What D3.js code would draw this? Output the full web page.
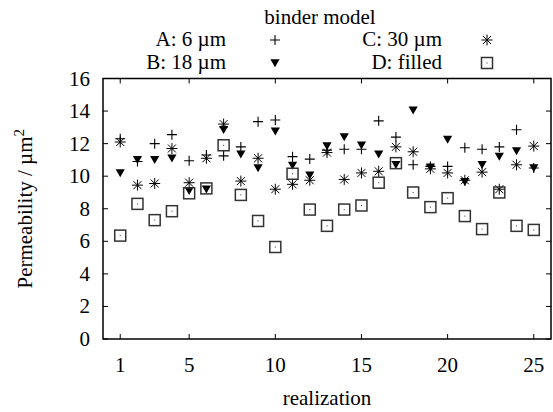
<!DOCTYPE html>
<html>
<head>
<meta charset="utf-8">
<script src="https://cdn.jsdelivr.net/npm/d3@7"></script>
<style>
  body { margin: 0; background: #fff; }
  text { font-family: "Liberation Serif", "DejaVu Serif", serif; fill: #000; }
</style>
</head>
<body>
<svg id="chart" width="553" height="412"></svg>
<script>
const realization = [1, 2, 3, 4, 5, 6, 7, 8, 9, 10, 11, 12, 13, 14, 15, 16, 17, 18, 19, 20, 21, 22, 23, 24, 25]
const xTicks = [1, 5, 10, 15, 20, 25]
const yTicks = [0, 2, 4, 6, 8, 10, 12, 14, 16]

// binder model A..D
const seriesA = [12.3, 10.9, 12.0, 12.55, 10.95, 11.3, 11.25, 11.8, 13.35, 13.45, 11.2, 11.05, 11.6, 11.65, 11.65, 13.4, 12.4, 10.7, 10.6, 10.6, 11.75, 11.65, 11.8, 12.85, 10.5]
const seriesB = [10.2, 11.0, 11.0, 11.1, 9.1, 9.2, 12.85, 11.35, 10.5, 12.75, 10.65, 10.05, 11.85, 12.4, 11.9, 11.35, 10.7, 14.05, 10.55, 12.25, 9.65, 10.7, 11.2, 11.55, 10.5]
const seriesC = [12.1, 9.45, 9.55, 11.7, 9.6, 11.1, 13.2, 9.7, 11.1, 9.2, 9.5, 9.75, 11.45, 9.8, 10.2, 10.3, 11.8, 11.5, 10.45, 10.2, 9.75, 10.25, 9.2, 10.7, 11.85]
const seriesD = [6.35, 8.3, 7.3, 7.85, 8.95, 9.25, 11.9, 8.85, 7.25, 5.65, 10.15, 7.95, 6.95, 7.95, 8.2, 9.6, 10.8, 9.0, 8.1, 8.65, 7.55, 6.75, 9.0, 6.95, 6.7]

const svg = d3.select("#chart")
const fontSize = 21

const plotL = 103, plotR = 551, plotT = 78.5, plotB = 339

const x = d3.scaleLinear().domain([0, 26]).range([plotL, plotR])
const y = d3.scaleLinear().domain([0, 16]).range([plotB, plotT])

//marker shapes, drawn around 0,0
const markers = {
    plus: g => {
        g.append("path").attr("d", "M-5 0H5M0 -5V5")
            .attr("stroke", "#000").attr("stroke-width", 1.1).attr("fill", "none")
    },
    tri: g => {
        g.append("path").attr("d", "M-4.6 -3.8H4.6L0 4.2Z").attr("fill", "#000")
    },
    star: g => {
        g.append("path").attr("d", "M-5.5 0H5.5M0 -5.5V5.5M-4 -4L4 4M-4 4L4 -4")
            .attr("stroke", "#000").attr("stroke-width", 1).attr("fill", "none")
    },
    box: g => {
        g.append("rect").attr("x", -5.5).attr("y", -5.5).attr("width", 11).attr("height", 11)
            .attr("fill", "none").attr("stroke", "#333").attr("stroke-width", 1.5)
        g.append("rect").attr("x", -0.5).attr("y", -0.5).attr("width", 1).attr("height", 1).attr("fill", "#333")
    }
}

const series = [
    {label: "A: 6 \u00b5m", values: seriesA, marker: "plus"},
    {label: "B: 18 \u00b5m", values: seriesB, marker: "tri"},
    {label: "C: 30 \u00b5m", values: seriesC, marker: "star"},
    {label: "D: filled", values: seriesD, marker: "box"}
]

// ticks, inward and mirrored
const tickG = svg.append("g").attr("stroke", "#000").attr("stroke-width", 1)
xTicks.forEach(t => {
    tickG.append("line").attr("x1", x(t)).attr("x2", x(t)).attr("y1", plotB).attr("y2", plotB - 5)
    tickG.append("line").attr("x1", x(t)).attr("x2", x(t)).attr("y1", plotT).attr("y2", plotT + 5)
})
yTicks.forEach(t => {
    tickG.append("line").attr("x1", plotL).attr("x2", plotL + 5).attr("y1", y(t)).attr("y2", y(t))
    tickG.append("line").attr("x1", plotR).attr("x2", plotR - 5).attr("y1", y(t)).attr("y2", y(t))
})

svg.append("rect")
    .attr("x", plotL).attr("y", plotT)
    .attr("width", plotR - plotL).attr("height", plotB - plotT)
    .attr("fill", "none").attr("stroke", "#000").attr("stroke-width", 1.5)

svg.append("g").selectAll("text").data(xTicks).join("text")
    .attr("x", d => x(d)).attr("y", plotB + 33)
    .attr("text-anchor", "middle").attr("font-size", fontSize)
    .text(d => d)

svg.append("g").selectAll("text").data(yTicks).join("text")
    .attr("x", plotL - 13).attr("y", d => y(d) + 7)
    .attr("text-anchor", "end").attr("font-size", fontSize)
    .text(d => d)

svg.append("text")
    .attr("x", (plotL + plotR) / 2).attr("y", 405)
    .attr("text-anchor", "middle").attr("font-size", fontSize)
    .text("realization")

const ylab = svg.append("text")
    .attr("transform", `translate(32,${(plotT + plotB) / 2}) rotate(-90)`)
    .attr("text-anchor", "middle").attr("font-size", fontSize)
ylab.append("tspan").text("Permeability / \u00b5m")
ylab.append("tspan").attr("font-size", 15).attr("dy", -8).text("2")

// points
series.forEach(s => {
    const g = svg.append("g")
    s.values.forEach((v, i) => {
        const p = g.append("g").attr("transform", `translate(${x(realization[i])},${y(v)})`)
        markers[s.marker](p)
    })
})

// legend
svg.append("text")
    .attr("x", 320).attr("y", 24)
    .attr("text-anchor", "middle").attr("font-size", fontSize)
    .text("binder model")

const legendPos = [
    {tx: 226, mx: 275, ty: 46},
    {tx: 226, mx: 275, ty: 69},
    {tx: 442, mx: 487, ty: 46},
    {tx: 442, mx: 487, ty: 69}
]
series.forEach((s, i) => {
    const pos = legendPos[i]
    svg.append("text")
        .attr("x", pos.tx).attr("y", pos.ty)
        .attr("text-anchor", "end").attr("font-size", fontSize)
        .text(s.label)
    const p = svg.append("g").attr("transform", `translate(${pos.mx},${pos.ty - 6})`)
    markers[s.marker](p)
})
</script>
</body>
</html>
